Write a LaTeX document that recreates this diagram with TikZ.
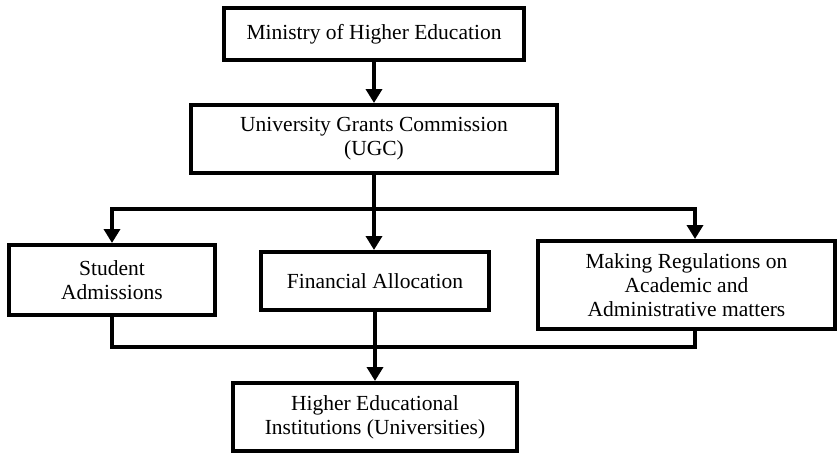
\documentclass[tikz,border=0pt]{standalone}
\usepackage{fontspec}
\setmainfont{Liberation Serif}
\usetikzlibrary{arrows.meta}

\begin{document}
\begin{tikzpicture}[x=1pt, y=-1pt, line width=4pt,
    box/.style={draw, align=center, inner sep=0pt, font=\fontsize{21.5}{24}\selectfont},
    arr/.style={-{Triangle[length=14pt, width=16pt]}}]
    \useasboundingbox (0,0) rectangle (839,455);
    \node[box, minimum width=300, minimum height=52] (min) at (374, 34) {Ministry of Higher Education};
    \node[box, minimum width=366, minimum height=68] (ugc) at (374, 139) {University Grants Commission\\(UGC)};
    \node[box, minimum width=206, minimum height=70] (stu) at (112, 280) {Student\\Admissions};
    \node[box, minimum width=228, minimum height=58] (fin) at (375, 281) {Financial Allocation};
    \node[box, minimum width=297, minimum height=88] (reg) at (686.5, 285) {Making Regulations on\\Academic and\\Administrative matters};
    \node[box, minimum width=284, minimum height=68] (hei) at (375, 417) {Higher Educational\\Institutions (Universities)};
    \coordinate (split) at (374, 209);
    \coordinate (join) at (375, 347);
    \draw[arr] (min) -- (ugc);
    \draw (ugc) -- (split);
    \draw[arr] (split) -- (split |- fin.north);
    \draw[arr] (split) -| (stu.north);
    \draw[arr] (split) -| ([xshift=8.5pt]reg.north);
    \draw (stu.south) |- (join) -| ([xshift=8.5pt]reg.south);
    \draw[arr] (fin.south) -- (hei.north);
\end{tikzpicture}
\end{document}
